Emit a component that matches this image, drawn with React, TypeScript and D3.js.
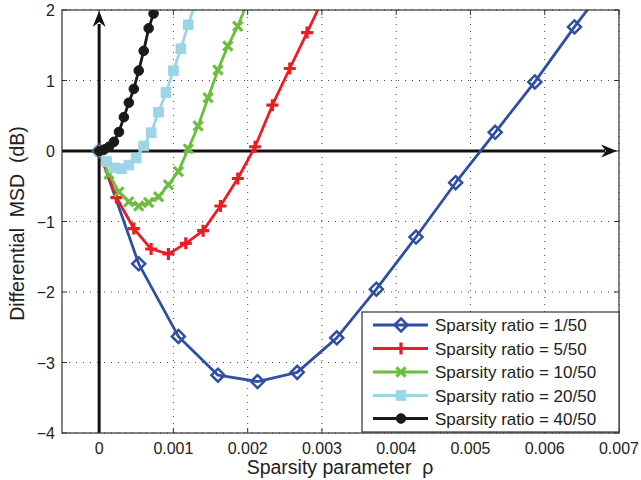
import React from "react";
import * as d3 from "d3";

const xTicks = [0, 0.001, 0.002, 0.003, 0.004, 0.005, 0.006, 0.007];
const xTickLabels = ["0", "0.001", "0.002", "0.003", "0.004", "0.005", "0.006", "0.007"];
const yTicks = [-4, -3, -2, -1, 0, 1, 2];
const yTickLabels = ["\u22124", "\u22123", "\u22122", "\u22121", "0", "1", "2"];

const rho1 = [0, 0.000533, 0.001067, 0.0016, 0.002133, 0.002667, 0.0032, 0.003733, 0.004267, 0.0048, 0.005333, 0.005867, 0.0064, 0.006933];
const msd1 = [0, -1.6, -2.63, -3.18, -3.27, -3.14, -2.65, -1.96, -1.22, -0.45, 0.265, 0.98, 1.76, 2.5];

const rho5 = [0, 0.000233, 0.000467, 0.0007, 0.000933, 0.001167, 0.0014, 0.001633, 0.001867, 0.0021, 0.002333, 0.002567, 0.0028, 0.003033];
const msd5 = [0, -0.66, -1.1, -1.39, -1.46, -1.31, -1.13, -0.78, -0.39, 0.06, 0.65, 1.17, 1.68, 2.2];

const rho10 = [0, 0.000133, 0.000267, 0.0004, 0.000533, 0.000667, 0.0008, 0.000933, 0.001067, 0.0012, 0.001333, 0.001467, 0.0016, 0.001733, 0.001867, 0.002];
const msd10 = [0, -0.33, -0.58, -0.72, -0.78, -0.73, -0.65, -0.48, -0.29, 0.03, 0.355, 0.756, 1.15, 1.49, 1.77, 2.12];

const rho20 = [0, 0.0001, 0.0002, 0.0003, 0.0004, 0.0005, 0.0006, 0.0007, 0.0008, 0.0009, 0.001, 0.0011, 0.0012, 0.0013];
const msd20 = [0, -0.15, -0.24, -0.25, -0.2, -0.1, 0.07, 0.26, 0.55, 0.83, 1.14, 1.45, 1.79, 2.12];

const rho40 = [0, 0.0000667, 0.000133, 0.0002, 0.000267, 0.000333, 0.0004, 0.000467, 0.000533, 0.0006, 0.000667, 0.000733, 0.0008];
const msd40 = [0, 0.02, 0.06, 0.13, 0.27, 0.48, 0.685, 0.88, 1.14, 1.42, 1.74, 1.95, 2.3];

const seriesNames = [
  "Sparsity ratio = 1/50",
  "Sparsity ratio = 5/50",
  "Sparsity ratio = 10/50",
  "Sparsity ratio = 20/50",
  "Sparsity ratio = 40/50",
];

const W = 641, H = 480;
const L = 62, R = 619, T = 10, B = 433;
const FONT = "'Liberation Sans', Arial, Helvetica, sans-serif";

type Kind = "diamond" | "plus" | "cross" | "square" | "circle";

function Marker({ kind, cx, cy, color }: { kind: Kind; cx: number; cy: number; color: string }) {
  if (kind === "diamond") {
    const s = 6.5;
    return <polygon points={`${cx},${cy - s} ${cx + s},${cy} ${cx},${cy + s} ${cx - s},${cy}`} fill="none" stroke={color} strokeWidth={2.5} />;
  }
  if (kind === "plus") {
    const s = 6;
    return <path d={`M${cx - s},${cy}H${cx + s}M${cx},${cy - s}V${cy + s}`} stroke={color} strokeWidth={3.2} />;
  }
  if (kind === "cross") {
    const s = 4.6;
    return <path d={`M${cx - s},${cy - s}L${cx + s},${cy + s}M${cx - s},${cy + s}L${cx + s},${cy - s}`} stroke={color} strokeWidth={3.2} />;
  }
  if (kind === "square") {
    const s = 4.8;
    return <rect x={cx - s} y={cy - s} width={2 * s} height={2 * s} fill={color} stroke={color} strokeWidth={1} />;
  }
  return <circle cx={cx} cy={cy} r={4.8} fill={color} stroke={color} strokeWidth={1} />;
}

export default function App() {
  const x = d3.scaleLinear().domain([-0.0005, 0.007]).range([L, R]);
  const y = d3.scaleLinear().domain([-4, 2]).range([B, T]);

  const series = [
    { xs: rho1, ys: msd1, color: "#2F4FA2", kind: "diamond" as Kind },
    { xs: rho5, ys: msd5, color: "#EC1C24", kind: "plus" as Kind },
    { xs: rho10, ys: msd10, color: "#6BBE3E", kind: "cross" as Kind },
    { xs: rho20, ys: msd20, color: "#9BD5E6", kind: "square" as Kind },
    { xs: rho40, ys: msd40, color: "#1A1A1A", kind: "circle" as Kind },
  ];

  const line = d3.line<[number, number]>().x((d) => x(d[0])).y((d) => y(d[1]));
  const x0 = x(0), y0 = y(0);

  const legX = 362, legY = 312, legW = R - 362, legH = B - 1 - 312;
  const rowY = [325, 348.5, 372, 395.5, 418.5];

  return (
    <svg width={W} height={H} style={{ position: "absolute", left: 0, top: 0, background: "#fff" }} fontFamily={FONT}>
      <defs>
        <clipPath id="plotclip">
          <rect x={L} y={T} width={R - L} height={B - T} />
        </clipPath>
      </defs>
      <rect x={0} y={0} width={W} height={H} fill="#fff" />
      {/* grid */}
      <g stroke="#444" strokeWidth={1} strokeDasharray="1,6">
        {xTicks.map((t) => (
          <line key={"gx" + t} x1={x(t)} x2={x(t)} y1={T} y2={B} />
        ))}
        {yTicks.map((t) => (
          <line key={"gy" + t} x1={L} x2={R} y1={y(t)} y2={y(t)} />
        ))}
      </g>
      {/* ticks */}
      <g stroke="#333" strokeWidth={1}>
        {xTicks.map((t) => (
          <g key={"tx" + t}>
            <line x1={x(t)} x2={x(t)} y1={B} y2={B - 5} />
            <line x1={x(t)} x2={x(t)} y1={T} y2={T + 5} />
          </g>
        ))}
        {yTicks.map((t) => (
          <g key={"ty" + t}>
            <line x1={L} x2={L + 5} y1={y(t)} y2={y(t)} />
            <line x1={R} x2={R - 5} y1={y(t)} y2={y(t)} />
          </g>
        ))}
      </g>
      {/* arrows */}
      <g>
        <line x1={L} x2={R - 14} y1={y0} y2={y0} stroke="#111" strokeWidth={3} />
        <polygon points={`${R - 2},${y0} ${R - 18},${y0 - 6.5} ${R - 13},${y0} ${R - 18},${y0 + 6.5}`} fill="#111" />
        <line x1={x0} x2={x0} y1={B} y2={T + 14} stroke="#111" strokeWidth={3} />
        <polygon points={`${x0},${T + 1} ${x0 - 6.5},${T + 17} ${x0},${T + 12} ${x0 + 6.5},${T + 17}`} fill="#111" />
      </g>
      {/* series */}
      <g clipPath="url(#plotclip)">
        {series.map((s, i) => {
          const pts = s.xs.map((v, j) => [v, s.ys[j]] as [number, number]);
          return (
            <g key={"s" + i}>
              <path d={line(pts) || ""} fill="none" stroke={s.color} strokeWidth={2.8} strokeLinejoin="round" />
              {pts.map((p, j) => (
                <Marker key={j} kind={s.kind} cx={x(p[0])} cy={y(p[1])} color={s.color} />
              ))}
            </g>
          );
        })}
      </g>
      {/* frame */}
      <rect x={L} y={T} width={R - L} height={B - T} fill="none" stroke="#333" strokeWidth={1.2} />
      {/* tick labels */}
      <g fontSize={16} fill="#222">
        {xTicks.map((t, i) => (
          <text key={"lx" + t} x={x(t)} y={B + 21} textAnchor="middle">{xTickLabels[i]}</text>
        ))}
        {yTicks.map((t, i) => (
          <text key={"ly" + t} x={55} y={y(t) + 6} textAnchor="end">{yTickLabels[i]}</text>
        ))}
      </g>
      {/* axis titles */}
      <text x={340} y={474} textAnchor="middle" fontSize={19.5} fill="#222" style={{ whiteSpace: "pre" }}>{"Sparsity parameter  \u03C1"}</text>
      <text transform={`translate(24,${(T + B) / 2 + 2}) rotate(-90)`} textAnchor="middle" fontSize={19.5} fill="#222" style={{ whiteSpace: "pre" }}>{"Differential  MSD  (dB)"}</text>
      {/* legend */}
      <g>
        <rect x={legX} y={legY} width={legW} height={legH} fill="#fff" stroke="#333" strokeWidth={1.2} />
        {series.map((s, i) => (
          <g key={"lg" + i}>
            <line x1={373} x2={428} y1={rowY[i]} y2={rowY[i]} stroke={s.color} strokeWidth={2.8} />
            <Marker kind={s.kind} cx={401} cy={rowY[i]} color={s.color} />
            <text x={435} y={rowY[i] + 6} fontSize={17} fill="#222">{seriesNames[i]}</text>
          </g>
        ))}
      </g>
    </svg>
  );
}
